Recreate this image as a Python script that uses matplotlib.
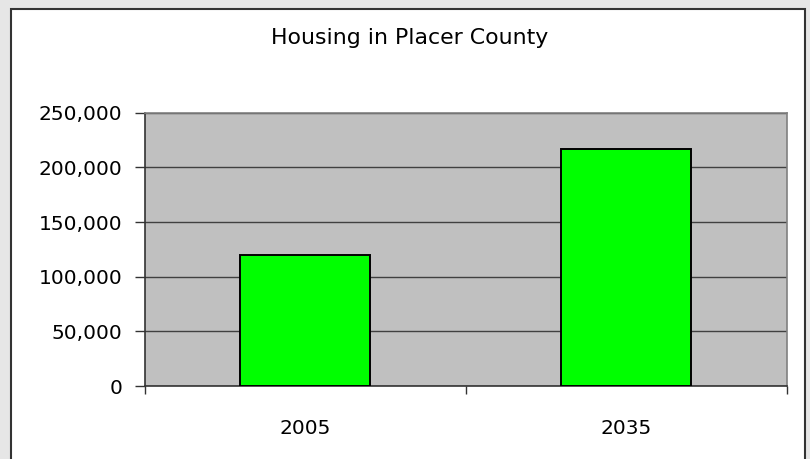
import matplotlib.pyplot as plt
from matplotlib.patches import Rectangle
from matplotlib.ticker import FuncFormatter

# Datos
years = ["2005", "2035"]
housing = [120100, 216800]

plt.rcParams['font.family'] = ['DejaVu Sans']

fig = plt.figure(figsize=(8.1, 4.59), dpi=100)
fig.patch.set_facecolor('#E6E6E6')

# panel blanco con borde
panel = Rectangle((0.0132, -0.1), 0.9806, 1.081, transform=fig.transFigure,
                  facecolor='white', edgecolor='#333333', linewidth=1.5, zorder=-1)
fig.patches.append(panel)

ax = fig.add_axes([0.179, 0.159, 0.7926, 0.5955])
ax.set_zorder(2)
ax.set_facecolor('#C0C0C0')

pos = list(range(len(years)))
ax.bar(pos, housing, width=0.405, color='#00FF00', edgecolor='black',
       linewidth=1.4, zorder=3)

ax.set_xlim(-0.5, len(years) - 0.5)
ax.set_ylim(0, 250000)
ax.set_yticks(range(0, 250001, 50000))
ax.yaxis.set_major_formatter(FuncFormatter(lambda v, p: f"{int(v):,}"))
ax.grid(axis='y', color='#404040', linewidth=1.0, zorder=1)
ax.set_axisbelow(True)

# ticks del eje x en los limites de categoria, etiquetas en el centro
ax.set_xticks([p - 0.5 for p in pos] + [len(years) - 0.5])
ax.set_xticklabels([])
ax.set_xticks(pos, minor=True)
ax.set_xticklabels(years, minor=True)
ax.tick_params(axis='x', which='minor', length=0, pad=24, labelsize=14.5)
ax.tick_params(axis='x', which='major', length=6, width=1, color='#333333', direction='out')
ax.tick_params(axis='y', length=7, width=1, color='#333333', pad=9.5, labelsize=14.5)

for s in ['top', 'right']:
    ax.spines[s].set_color('#808080')
    ax.spines[s].set_linewidth(1.2)
for s in ['left', 'bottom']:
    ax.spines[s].set_color('#333333')
    ax.spines[s].set_linewidth(1.2)

fig.text(0.506, 0.917, "Housing in Placer County", ha='center', va='center', fontsize=15.8)

fig.savefig("out.png", dpi=100, facecolor=fig.get_facecolor())
